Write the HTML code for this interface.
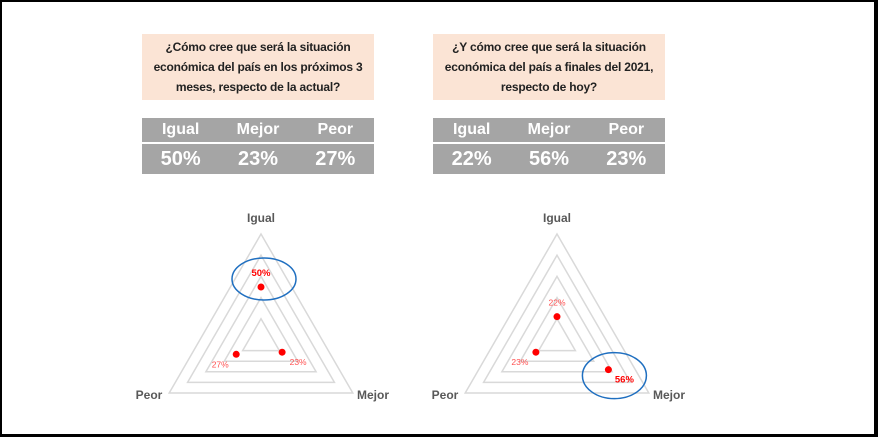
<!DOCTYPE html>
<html><head><meta charset="utf-8"><style>
body{margin:0;width:878px;height:437px;overflow:hidden;background:#fff;font-family:"Liberation Sans",sans-serif}
#frame{position:absolute;left:0;top:0;width:872px;height:432px;border-style:solid;border-color:#000;border-width:2px 4px 3px 2px}
.q{position:absolute;top:34px;width:232px;height:66px;background:#fbe4d5;color:#222;font-weight:bold;font-size:12px;line-height:20px;text-align:center;display:flex;align-items:center;justify-content:center;white-space:nowrap;letter-spacing:-0.2px}
.t{position:absolute;top:118px;width:232px;height:56px;background:#a5a5a5;color:#fff;font-weight:bold}
.t .h,.t .v{display:flex;justify-content:space-around;text-align:center}
.t .h{height:24px;line-height:24px;font-size:16px;border-bottom:2px solid #fff}
.t .v{height:30px;line-height:30px;font-size:20px}
.t span{width:33%}
</style></head><body>
<div id="frame"></div>
<div class="q" style="left:142px"><div>¿Cómo cree que será la situación<br>económica del país en los próximos 3<br>meses, respecto de la actual?</div></div>
<div class="q" style="left:433px"><div>¿Y cómo cree que será la situación<br>económica del país a finales del 2021,<br>respecto de hoy?</div></div>
<div class="t" style="left:142px">
<div class="h"><span>Igual</span><span>Mejor</span><span>Peor</span></div>
<div class="v"><span>50%</span><span>23%</span><span>27%</span></div></div>
<div class="t" style="left:433px">
<div class="h"><span>Igual</span><span>Mejor</span><span>Peor</span></div>
<div class="v"><span>22%</span><span>56%</span><span>23%</span></div></div>
<svg id="chart" width="878" height="437" style="position:absolute;left:0;top:0"></svg>
<script>
const categories=["Igual","Mejor","Peor"];
const series1=[0.50,0.23,0.27];
const series2=[0.22,0.56,0.23];
const ringLevels=[0.2,0.4,0.6,0.8,1.0];
const highlight1=0, highlight2=1;
const svg=document.getElementById('chart');
const NS='http://www.w3.org/2000/svg';
function mk(t,a){const e=document.createElementNS(NS,t);for(const k in a)e.setAttribute(k,a[k]);svg.appendChild(e);return e;}
const angles=[-90,30,150].map(d=>d*Math.PI/180);
function pt(cx,cy,R,i,v){return [cx+R*v*Math.cos(angles[i]),cy+R*v*Math.sin(angles[i])];}
function radar(cx,cy,R,vals,hi,idx){
  ringLevels.forEach((lv,j)=>{
    const p=[0,1,2].map(i=>pt(cx,cy,R,i,lv).join(',')).join(' ');
    const e=mk('polygon',{points:p,fill:'none',stroke:'#d9d9d9','stroke-width':1.5});
    
    
  });
  const lp=[[cx,222],[cx+112,399],[cx-112,399]];
  categories.forEach((c,i)=>{
    const t=mk('text',{x:lp[i][0],y:lp[i][1],'text-anchor':'middle','font-size':12,'font-weight':'bold',fill:'#595959'});
    t.textContent=c;
    
    
  });
  vals.forEach((v,i)=>{
    const [x,y]=pt(cx,cy,R,i,v);
    const d=mk('circle',{cx:x,cy:y,r:3.5,fill:'#ff0000'});
    
    
    const off=[[0,-11],[16,13],[-16,13]][i];
    const b=i===hi;
    const t=mk('text',{x:x+off[0],y:y+off[1],'text-anchor':'middle','font-size':b?9.5:8.5,'font-weight':b?'bold':'normal',fill:b?'#ff0000':'#ff5050'});
    t.textContent=Math.round(v*100)+'%';
    
    
    if(b){
      const e=mk('ellipse',{cx:x+(i===0?3:6),cy:y+(i===0?-8:6),rx:32,ry:i===0?21:23,fill:'none',stroke:'#1f6fc0','stroke-width':1.5});
      
      
    }
  });
}
radar(261,340,106,series1,highlight1,1);
radar(557,340,106,series2,highlight2,2);
</script>
</body></html>
